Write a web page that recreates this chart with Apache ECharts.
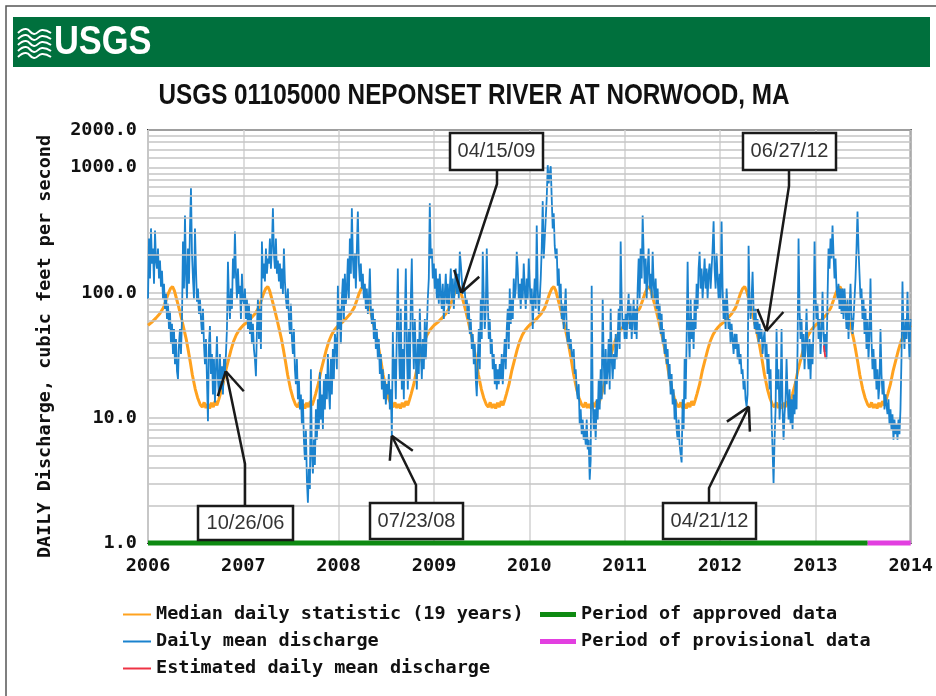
<!DOCTYPE html>
<html><head><meta charset="utf-8">
<script src="https://cdn.jsdelivr.net/npm/echarts@6/dist/echarts.min.js"></script>
<style>html,body{margin:0;padding:0;background:#fff}#c{width:936px;height:696px}</style>
</head><body><div id="c"></div>
<script>
// ---------------- DATA ----------------
const titleText = 'USGS 01105000 NEPONSET RIVER AT NORWOOD, MA';
const logoText = 'USGS';
const yAxisName = 'DAILY Discharge, cubic feet per second';
const xMin = '2006-01-01';
const xMax = '2014-01-01';
const yMin = 1;
const yMax = 2000;
const minorGridValues = [2,3,4,5,6,7,8,9,20,30,40,50,60,70,80,90,200,300,400,500,600,700,800,900,1200,1400,1600,1800];

// median daily statistic (same calendar curve every year)
const medianDays = ['01-01','01-15','02-01','02-15','03-01','03-10','03-20','03-28','04-05','04-12','04-20','04-28','05-08','05-18','05-28','06-05','06-12','06-20','07-01','07-10','07-20','07-28','08-04','08-11','08-18','08-25','09-01','09-08','09-15','09-22','09-29','10-05','10-15','10-25','11-05','11-15','11-25','12-05','12-15','12-25'];
const medianValues = [55,58,63,68,76,86,99,108,112,104,90,78,64,52,42,34,28,22,17,14.5,12.8,12.2,13.3,12.0,12.9,11.9,13.2,12.2,13.6,12.6,14.0,15.5,18.5,23.5,29,35,41,46,50,53];
const medianYears = [2006,2007,2008,2009,2010,2011,2012,2013];

// daily mean discharge, sampled evenly from dischargeStart to dischargeEnd
const dischargeStart = '2006-01-01';
const dischargeEnd = '2013-12-31';
const discharge2006 = [89.5,271,130,327,171,226,118,315,181,156,226,130,181,112,150,89.5,118,74.4,98,61.8,81.6,51.4,71.6,38.9,56.4,32.4,51.4,26.9,42.7,23.6,20.4,38.9,51.4,32.4,61.8,257,108,415,142,89.5,226,118,327,684,206,130,89.5,327,156,84.7,108,67.8,89.5,61.8,46.9,74.4,38.9,26.9,42.7,20.4,9.4,38.9,54.2,22.4,32.4,15.4,29.5,13.3,24.5,45.0,20.4,14.9,32.4,16.9,25.9,15.4,29.5,23.2,32.4,51.4,177,89.5,61.8,108,74.4,188,130,309,142,89.5,156,98,114,61.8,142,89.5];
const discharge2007 = [81.6,108,61.8,89.5,51.4,81.6,46.9,67.8,38.9,56.4,35.5,29.5,21.5,51.4,89.5,42.7,74.4,35.5,257,130,171,123,226,142,188,171,271,156,234,473,206,156,271,142,181,123,171,108,156,98,226,123,89.5,74.4,108,61.8,46.9,81.6,42.7,32.4,51.4,24.5,18.6,29.5,14.1,20.4,11.7,15.4,8.9,14.1,6.7,4.6,8.1,3.2,2.1,3.9,2.7,24.5,5.1,3.6,6.7,4.2,11.7,6.7,14.1,8.1,23.2,9.7,15.4,8.1,20.4,11.7,22.4,14.1,32.4,16.9,11.7,29.5,15.4,35.5,20.4,46.9,40.4,24.5,114,51.4];
const discharge2008 = [74.4,38.9,89.5,130,61.8,142,81.6,108,188,89.5,271,142,473,188,130,206,108,226,447,171,123,171,108,142,89.5,118,74.4,108,67.8,89.5,156,74.4,56.4,74.4,42.7,61.8,35.5,51.4,29.5,42.7,22.4,32.4,16.9,24.5,14.1,20.4,12.8,18.6,15.4,22.4,11.7,16.9,7.1,48.6,20.4,29.5,14.1,51.4,156,42.7,20.4,74.4,16.9,35.5,14.1,61.8,156,35.5,16.9,51.4,20.4,89.5,188,51.4,24.5,61.8,29.5,16.9,42.7,22.4,74.4,35.5,20.4,42.7,24.5,61.8,29.5,51.4,89.5,130,519,188,226,130,171];
const discharge2009 = [108,156,89.5,130,81.6,142,98,74.4,118,61.8,98,142,81.6,118,67.8,108,156,89.5,130,74.4,114,156,98,142,89.5,213,171,130,98,118,102,81.6,89.5,61.8,81.6,46.9,61.8,35.5,46.9,26.9,38.9,20.4,14.9,29.5,51.4,24.5,89.5,42.7,213,89.5,51.4,74.4,226,89.5,42.7,61.8,32.4,42.7,24.5,32.4,18.6,26.9,16.9,24.5,18.6,26.9,20.4,32.4,18.6,29.5,42.7,24.5,51.4,74.4,35.5,108,56.4,89.5,61.8,130,89.5,108,213,156,89.5,118,74.4,130,89.5,171,108,74.4,130,89.5,188];
const discharge2010 = [118,81.6,108,51.4,89.5,130,74.4,345,108,67.8,89.5,130,226,540,188,271,393,569,1047,750,900,1028,569,327,431,238,188,226,114,156,89.5,118,61.8,81.6,51.4,74.4,108,51.4,38.9,51.4,35.5,42.7,32.4,29.5,35.5,22.4,24.5,16.9,14.1,18.6,8.9,11.7,7.4,9.7,6.7,8.1,6.1,9.7,5.6,6.7,3.2,4.6,114,14.1,8.1,11.7,6.7,14.1,9.7,20.4,11.7,24.5,14.1,89.5,29.5,15.4,35.5,18.6,24.5,42.7,16.9,74.4,29.5,20.4,32.4,24.5,46.9,29.5,42.7,74.4,35.5,257,89.5,51.4,61.8,42.7];
const discharge2011 = [67.8,42.7,74.4,98,51.4,81.6,42.7,61.8,89.5,46.9,74.4,42.7,108,188,89.5,226,130,415,206,118,188,89.5,156,226,108,142,89.5,213,118,89.5,130,74.4,108,61.8,81.6,46.9,67.8,38.9,51.4,32.4,42.7,26.9,35.5,20.4,26.9,15.4,22.4,12.8,16.9,9.7,14.1,8.1,6.7,9.7,6.1,5.1,4.4,14.1,8.1,29.5,14.1,42.7,177,51.4,29.5,89.5,42.7,61.8,35.5,89.5,51.4,118,74.4,156,213,108,156,89.5,130,188,108,156,89.5,142,171,108,156,226,372,156,108,206,130,89.5,142];
const discharge2012 = [89.5,372,108,61.8,89.5,51.4,108,74.4,51.4,61.8,38.9,56.4,42.7,32.4,46.9,35.5,46.9,29.5,38.9,26.9,32.4,22.4,24.5,16.9,20.4,14.1,12.3,15.4,238,89.5,61.8,89.5,147,74.4,51.4,74.4,46.9,61.8,38.9,56.4,42.7,51.4,32.4,42.7,49.5,29.5,38.9,22.4,32.4,16.9,24.5,9.7,5.6,3.0,6.7,11.7,51.4,16.9,24.5,9.7,14.1,51.4,11.7,6.7,10.7,14.1,29.5,15.4,9.7,16.9,8.9,14.1,8.1,15.4,10.7,20.4,11.7,35.5,271,74.4,42.7,61.8,29.5,46.9,24.5,38.9,74.4,35.5,24.5,42.7,20.4,38.9,26.9,51.4,257,89.5];
const discharge2013 = [61.8,81.6,42.7,61.8,32.4,46.9,102,51.4,33.6,46.9,29.5,89.5,226,156,271,188,345,206,130,188,108,89.5,118,74.4,108,67.8,108,61.8,108,74.4,51.4,89.5,42.7,74.4,118,61.8,46.9,61.8,89.5,130,226,447,226,142,89.5,108,61.8,89.5,46.9,74.4,35.5,61.8,29.5,46.9,130,42.7,24.5,35.5,20.4,29.5,16.9,24.5,14.1,18.6,51.4,22.4,15.4,20.4,11.7,15.4,12.8,10.7,14.1,8.9,11.7,8.1,10.7,6.7,9.7,7.4,8.9,6.7,9.7,7.4,11.7,29.5,123,51.4,35.5,61.8,42.7,102,51.4,29.5,61.8];

// estimated daily mean discharge
const estimatedDates = ['2013-02-02','2013-02-05','2013-02-08'];
const estimatedValues = [38,33.6,30];

// data-quality periods
const approvedPeriod = ['2006-01-01','2013-07-20'];
const provisionalPeriod = ['2013-07-20','2014-01-01'];

// callouts
const annotationLabels = ['10/26/06','07/23/08','04/15/09','04/21/12','06/27/12'];
const annotationDates = ['2006-10-26','2008-07-23','2009-04-15','2012-04-21','2012-06-27'];
const annotationValues = [23.6, 7.2, 100, 12.3, 49.5];

// legend names
const nMedian = 'Median daily statistic (19 years)';
const nDaily = 'Daily mean discharge';
const nEst = 'Estimated daily mean discharge';
const nApproved = 'Period of approved data';
const nProv = 'Period of provisional data';

// ---------------- BUILD ----------------
const pd = s => echarts.number.parseDate(s).getTime();
const medianData = [];
medianYears.forEach(y => medianDays.forEach((d, i) => medianData.push([pd(y + '-' + d), medianValues[i]])));
medianData.push([pd(xMax), medianValues[0]]);

const dischargeValues = [].concat(discharge2006, discharge2007, discharge2008, discharge2009, discharge2010, discharge2011, discharge2012, discharge2013);
const t0 = pd(dischargeStart), t1 = pd(dischargeEnd);
const step = (t1 - t0) / (dischargeValues.length - 1);
const dischargeData = dischargeValues.map((v, i) => [t0 + i * step, v]);
const estimatedData = estimatedDates.map((d, i) => [pd(d), estimatedValues[i]]);

const monoFont = 'DejaVu Sans Mono';
const monoSize = 18.5;
const chart = echarts.init(document.getElementById('c'), null, {renderer: 'canvas'});
const YEAR = 365 * 24 * 3600 * 1000;
const legendText = {fontFamily: monoFont, fontWeight: 'bold', fontSize: monoSize, color: '#111'};

chart.setOption({
  animation: false,
  backgroundColor: '#ffffff',
  grid: {left: 148, right: 23, top: 130, bottom: 153, show: true, borderColor: '#333', borderWidth: 2, backgroundColor: '#fff'},
  xAxis: {
    type: 'time', min: pd(xMin), max: pd(xMax), minInterval: YEAR, maxInterval: 366 * 24 * 3600 * 1000,
    axisLine: {show: false}, axisTick: {show: false},
    axisLabel: {formatter: '{yyyy}', showMinLabel: true, showMaxLabel: true, margin: 14, hideOverlap: false,
      fontFamily: monoFont, fontWeight: 'bold', fontSize: monoSize, color: '#111'},
    splitLine: {show: true, lineStyle: {color: '#d2d2d2', width: 1.5}}
  },
  yAxis: {
    type: 'log', logBase: 10, min: yMin, max: yMax,
    name: yAxisName, nameLocation: 'middle', nameGap: 93, nameRotate: 90,
    nameTextStyle: {fontFamily: monoFont, fontWeight: 'bold', fontSize: monoSize, color: '#111', padding: [0, 20, 0, 0]},
    axisLine: {show: false}, axisTick: {show: false},
    axisLabel: {formatter: v => Number(v).toFixed(1), margin: 11, fontFamily: monoFont, fontWeight: 'bold', fontSize: monoSize, color: '#111'},
    splitLine: {show: true, lineStyle: {color: '#c4c4c4', width: 1.5}}
  },
  legend: [
    {left: 118, top: 600, orient: 'vertical', itemGap: 8, itemWidth: 28, itemHeight: 2, selectedMode: false,
      data: [nMedian, nDaily, nEst].map(n => ({name: n, icon: 'rect'})), textStyle: legendText},
    {left: 535, top: 600, orient: 'vertical', itemGap: 8, itemWidth: 36, itemHeight: 5, selectedMode: false,
      data: [nApproved, nProv].map(n => ({name: n, icon: 'rect'})), textStyle: legendText}
  ],
  series: [
    {name: 'minor-grid', type: 'line', z: 1, silent: true, data: [[pd(xMin), yMin], [pd(xMax), yMin]],
      symbol: 'none', lineStyle: {opacity: 0},
      markLine: {silent: true, symbol: ['none', 'none'], label: {show: false},
        lineStyle: {color: '#c4c4c4', width: 1.5, type: 'solid'},
        data: minorGridValues.map(v => ({yAxis: v}))}},
    {name: nMedian, type: 'line', z: 2, data: medianData, symbol: 'none', showSymbol: false,
      lineStyle: {color: '#FFA21F', width: 3}, itemStyle: {color: '#FFA21F'}},
    {name: nDaily, type: 'line', z: 3, data: dischargeData, symbol: 'none', showSymbol: false,
      lineStyle: {color: '#1A82CE', width: 1.8}, itemStyle: {color: '#1A82CE'}},
    {name: nEst, type: 'line', z: 4, data: estimatedData, symbol: 'none', showSymbol: false,
      lineStyle: {color: '#EE3344', width: 1.8}, itemStyle: {color: '#EE3344'}},
    {name: nApproved, type: 'line', z: 5, clip: false, data: approvedPeriod.map(d => [pd(d), yMin]), symbol: 'none',
      lineStyle: {color: '#0E8A12', width: 5}, itemStyle: {color: '#0E8A12'}},
    {name: nProv, type: 'line', z: 5, clip: false, data: provisionalPeriod.map(d => [pd(d), yMin]), symbol: 'none',
      lineStyle: {color: '#E23FE0', width: 5}, itemStyle: {color: '#E23FE0'}}
  ]
});

// ---------------- DECORATION (layout only) ----------------
const calloutLayout = [
  {box: [198, 506, 95, 34], start: [245, 506], bend: [245, 464], arms: [[-8, 25], [18, 20]]},
  {box: [370, 503, 93, 36], start: [416, 503], bend: [416, 485], arms: [[-2, 25], [21, 15]]},
  {box: [450, 133, 93, 37], start: [497, 170], bend: [497, 184], arms: [[-7, -23], [18, -16]]},
  {box: [663, 503, 93, 36], start: [709, 503], bend: [709, 488], arms: [[-22, 15], [1, 25]]},
  {box: [743, 133, 93, 37], start: [789, 170], bend: [789, 186], arms: [[-9, -22], [17, -19]]}
];
const g = [];
// outer frame
g.push({type: 'polyline', shape: {points: [[6, 696], [6, 6], [936, 6]]}, style: {stroke: '#555', lineWidth: 1.5, fill: null}});
// header band with logo
g.push({type: 'rect', shape: {x: 13, y: 17, width: 917, height: 50}, style: {fill: '#00703D'}});
for (let k = 0; k < 5; k++) {
  const y0 = 30 + k * 6;
  g.push({type: 'polyline', shape: {points: [[18, y0 + 3], [26, y0 - 1], [34, y0 + 4], [42, y0], [51, y0 + 3]], smooth: 0.5},
    style: {stroke: '#fff', lineWidth: 2, fill: null}});
}
g.push({type: 'text', x: 54, y: 43, scaleX: 0.86, style: {text: logoText, font: 'bold 40px "Liberation Sans"', fill: '#fff', textVerticalAlign: 'middle'}});
// title
g.push({type: 'text', x: 474, y: 96, scaleX: 0.81, style: {text: titleText, font: 'bold 30px "Liberation Sans"', fill: '#111', textAlign: 'center', textVerticalAlign: 'middle'}});
// callouts
calloutLayout.forEach((c, i) => {
  const tip = chart.convertToPixel({xAxisIndex: 0, yAxisIndex: 0}, [pd(annotationDates[i]), annotationValues[i]]);
  g.push({type: 'polyline', z: 20, shape: {points: [c.start, c.bend, tip]}, style: {stroke: '#1a1a1a', lineWidth: 2.5, fill: null}});
  c.arms.forEach(a => g.push({type: 'line', z: 20, shape: {x1: tip[0], y1: tip[1], x2: tip[0] + a[0], y2: tip[1] + a[1]},
    style: {stroke: '#1a1a1a', lineWidth: 2.5}}));
  g.push({type: 'rect', z: 21, shape: {x: c.box[0], y: c.box[1], width: c.box[2], height: c.box[3]},
    style: {fill: '#fff', stroke: '#1a1a1a', lineWidth: 2.5}});
  g.push({type: 'text', z: 22, x: c.box[0] + c.box[2] / 2, y: c.box[1] + c.box[3] / 2,
    style: {text: annotationLabels[i], font: '20px "Liberation Sans"', fill: '#333', textAlign: 'center', textVerticalAlign: 'middle'}});
});
chart.setOption({graphic: g});
</script>
</body></html>
